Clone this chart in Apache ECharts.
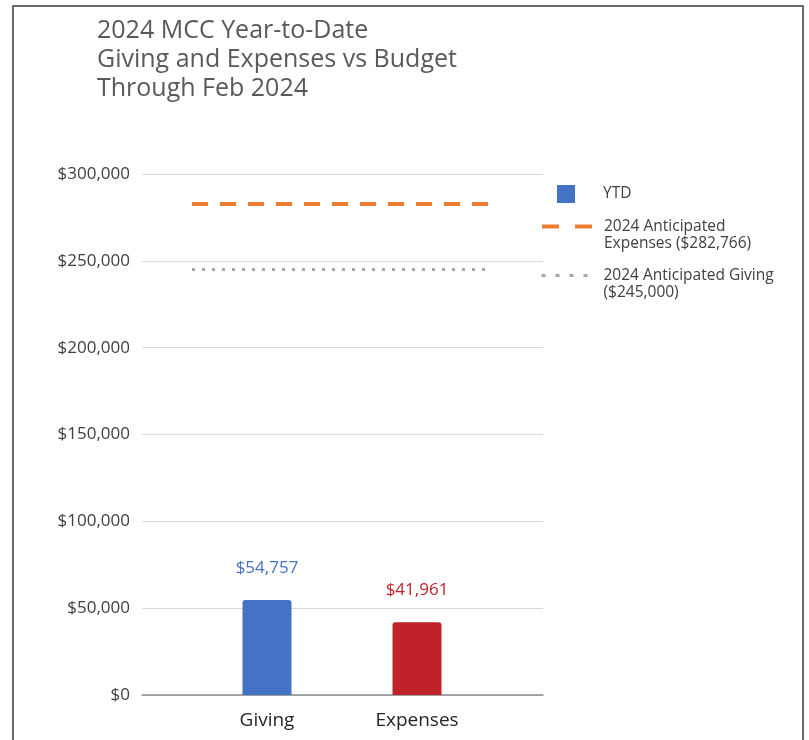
<!DOCTYPE html>
<html>
<head>
<meta charset="utf-8">
<script src="https://cdn.jsdelivr.net/npm/echarts@6/dist/echarts.min.js"></script>
<style>
  html, body { margin: 0; padding: 0; background: #fff; }
  #main { width: 809px; height: 740px; }
</style>
</head>
<body>
<div id="main"></div>
<script>
// data
var categories = ['Giving', 'Expenses'];
var ytdValues = [54757, 41961];
var barColors = ['#4472C4', '#C0222B'];
var anticipatedExpenses = 282766;
var anticipatedGiving = 245000;
var yMin = 0, yMax = 300000, yStep = 50000;

var font = 'Open Sans';
function money(v) {
  return '$' + Number(v).toLocaleString('en-US');
}

var myChart = echarts.init(document.getElementById('main'));

var legendText = { fontFamily: font, fontSize: 15.5, lineHeight: 17, color: '#404040' };
// empty first line so the icon sits beside the first text line
function topAligned(name) { return '\n' + name; }

option = {
  backgroundColor: '#fff',
  textStyle: { fontFamily: font },
  graphic: [{
    type: 'rect',
    shape: { x: 13, y: 6, width: 790, height: 800 },
    style: { fill: 'none', stroke: '#3a3a3a', lineWidth: 1.5 },
    silent: true
  }],
  title: {
    text: '2024 MCC Year-to-Date\nGiving and Expenses vs Budget\nThrough Feb 2024',
    left: 97,
    top: 16,
    padding: 0,
    textStyle: {
      fontFamily: font,
      fontSize: 25,
      fontWeight: 'normal',
      lineHeight: 29,
      color: '#595959'
    }
  },
  legend: [
    {
      data: ['YTD'],
      left: 557, top: 185, padding: 0,
      itemWidth: 18, itemHeight: 18,
      icon: 'rect',
      textStyle: Object.assign({}, legendText, { padding: [0, 0, 0, 23] })
    },
    {
      data: ['2024 Anticipated\nExpenses ($282,766)'],
      left: 540, top: 201, padding: 0,
      itemWidth: 52, itemHeight: 14,
      itemStyle: { opacity: 0 },
      lineStyle: { type: [17, 16], width: 4, opacity: 1 },
      formatter: topAligned,
      textStyle: Object.assign({}, legendText, { padding: [0, 0, 0, 5] })
    },
    {
      data: ['2024 Anticipated Giving\n($245,000)'],
      left: 540, top: 250, padding: 0,
      itemWidth: 52, itemHeight: 14,
      itemStyle: { opacity: 0 },
      lineStyle: { type: [4, 10], width: 3, opacity: 1 },
      formatter: topAligned,
      textStyle: Object.assign({}, legendText, { padding: [0, 0, 0, 5] })
    }
  ],
  grid: [
    { left: 142, right: 266, top: 174, bottom: 45 },
    { left: 192, right: 317, top: 174, bottom: 45 }
  ],
  xAxis: [
    {
      type: 'category', gridIndex: 0, data: categories,
      axisLine: { lineStyle: { color: '#8c8c8c', width: 1.5 } },
      axisTick: { show: false },
      axisLabel: { show: false }
    },
    {
      type: 'category', gridIndex: 1, data: categories,
      axisLine: { show: false },
      axisTick: { show: false },
      axisLabel: { fontFamily: font, fontSize: 19, color: '#262626', margin: 16 }
    }
  ],
  yAxis: [
    {
      type: 'value', gridIndex: 0, min: yMin, max: yMax, interval: yStep,
      axisLine: { show: false },
      axisTick: { show: false },
      splitLine: { lineStyle: { color: '#d9d9d9', width: 1 } },
      axisLabel: {
        fontFamily: font, fontSize: 17, color: '#404040', margin: 12,
        formatter: money
      }
    },
    {
      type: 'value', gridIndex: 1, min: yMin, max: yMax, interval: yStep,
      show: false,
      splitLine: { show: false }
    }
  ],
  series: [
    {
      name: 'YTD',
      type: 'bar',
      xAxisIndex: 1, yAxisIndex: 1,
      barWidth: 49,
      itemStyle: { color: barColors[0], borderRadius: [3, 3, 0, 0] },
      data: ytdValues.map(function (v, i) {
        return {
          value: v,
          itemStyle: { color: barColors[i] },
          label: { color: barColors[i] }
        };
      }),
      label: {
        show: true,
        position: 'top',
        distance: 23,
        fontFamily: font,
        fontSize: 17,
        formatter: function (p) { return money(p.value); }
      },
      z: 5
    },
    {
      name: '2024 Anticipated\nExpenses ($282,766)',
      type: 'line',
      xAxisIndex: 1, yAxisIndex: 1,
      data: [],
      symbol: 'none',
      itemStyle: { color: '#ED7D31' },
      lineStyle: { color: '#ED7D31', width: 4, type: [16, 12] },
      markLine: {
        silent: true,
        symbol: 'none',
        label: { show: false },
        lineStyle: { color: '#ED7D31', width: 4, type: [16, 12] },
        data: [{ yAxis: anticipatedExpenses }]
      }
    },
    {
      name: '2024 Anticipated Giving\n($245,000)',
      type: 'line',
      xAxisIndex: 1, yAxisIndex: 1,
      data: [],
      symbol: 'none',
      itemStyle: { color: '#A6A6A6' },
      lineStyle: { color: '#A6A6A6', width: 3, type: [3, 7] },
      markLine: {
        silent: true,
        symbol: 'none',
        label: { show: false },
        lineStyle: { color: '#A6A6A6', width: 3, type: [3, 7] },
        data: [{ yAxis: anticipatedGiving }]
      }
    }
  ]
};

myChart.setOption(option);
</script>
</body>
</html>
